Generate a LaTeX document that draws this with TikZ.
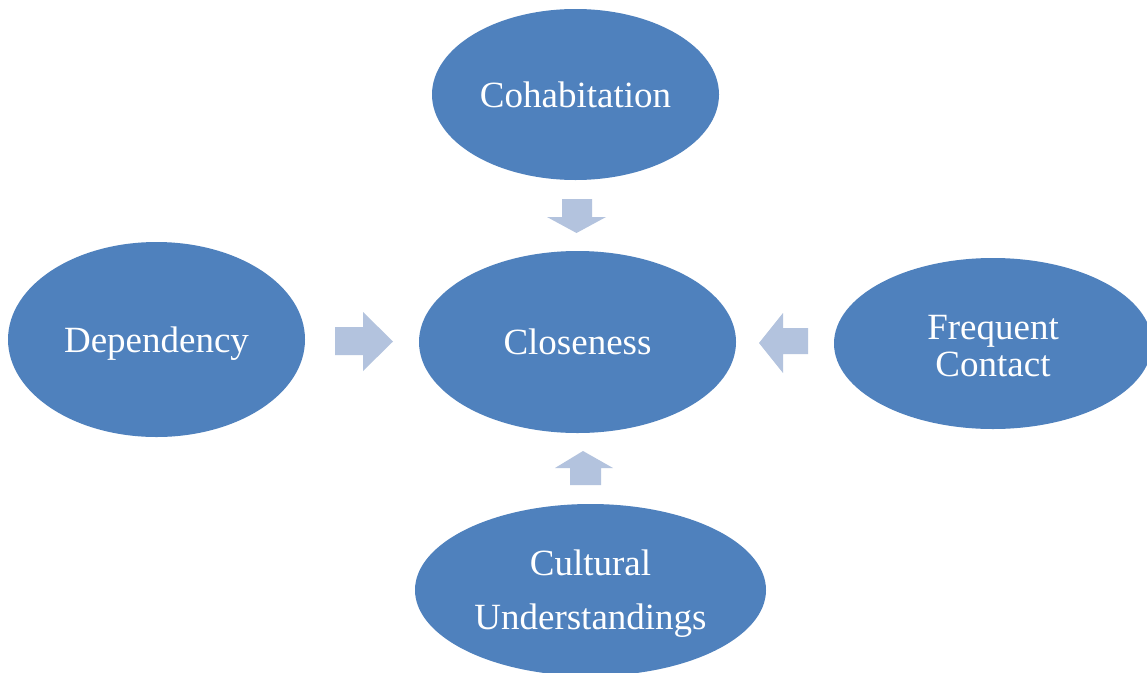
\documentclass[tikz,border=0pt]{standalone}
\usepackage{fontspec}
\setmainfont{Liberation Serif}
\usetikzlibrary{shapes.geometric}
\definecolor{ellblue}{HTML}{4F81BD}
\definecolor{arrblue}{HTML}{B3C3DE}
\tikzset{
  bubble/.style={ellipse, fill=ellblue, draw=none, inner sep=0pt, text=white,
    font=\fontsize{37}{37}\selectfont, align=center},
  onelinetext/.style={text height=25pt, text depth=0pt},
  blockarrow/.style={fill=arrblue, draw=none}
}
\begin{document}
\begin{tikzpicture}[x=1pt,y=-1pt]
\useasboundingbox (0,0) rectangle (1147,672);
\clip (0,0) rectangle (1147,672);
\fill[white] (0,0) rectangle (1147,672);
% ellipses
\node[bubble, onelinetext, minimum width=287pt, minimum height=171pt] (coh) at (575.5,94.5) {Cohabitation};
\node[bubble, onelinetext, minimum width=317pt, minimum height=182pt] (clo) at (577.5,342) {Closeness};
\node[bubble, onelinetext, minimum width=297pt, minimum height=195pt] (dep) at (156.5,339.5) {Dependency};
\node[bubble, minimum width=318pt, minimum height=171pt] (fre) at (993,343.5) {\rule{0pt}{29pt}Frequent\\Contact};
\node[bubble, font=\fontsize{37}{54}\selectfont, minimum width=351pt, minimum height=172pt] (cul) at (590.5,590) {\rule{0pt}{33pt}Cultural\\Understandings};
% block arrows
\coordinate (tA) at (576.5,233);
\fill[blockarrow] (562,199) -- (592,199) -- (592,217) -- (606,217) -- (tA) -- (547,217) -- (562,217) -- cycle;
\coordinate (lA) at (393,341.5);
\fill[blockarrow] (335,327) -- (363,327) -- (363,312) -- (lA) -- (363,371) -- (363,355) -- (335,355) -- cycle;
\coordinate (rA) at (759,343);
\fill[blockarrow] (808,328) -- (783,328) -- (783,313) -- (rA) -- (783,373) -- (783,354) -- (808,354) -- cycle;
\coordinate (bA) at (583,451);
\fill[blockarrow] (570,485) -- (570,468) -- (555,468) -- (bA) -- (613,468) -- (601,468) -- (601,485) -- cycle;
\end{tikzpicture}
\end{document}
